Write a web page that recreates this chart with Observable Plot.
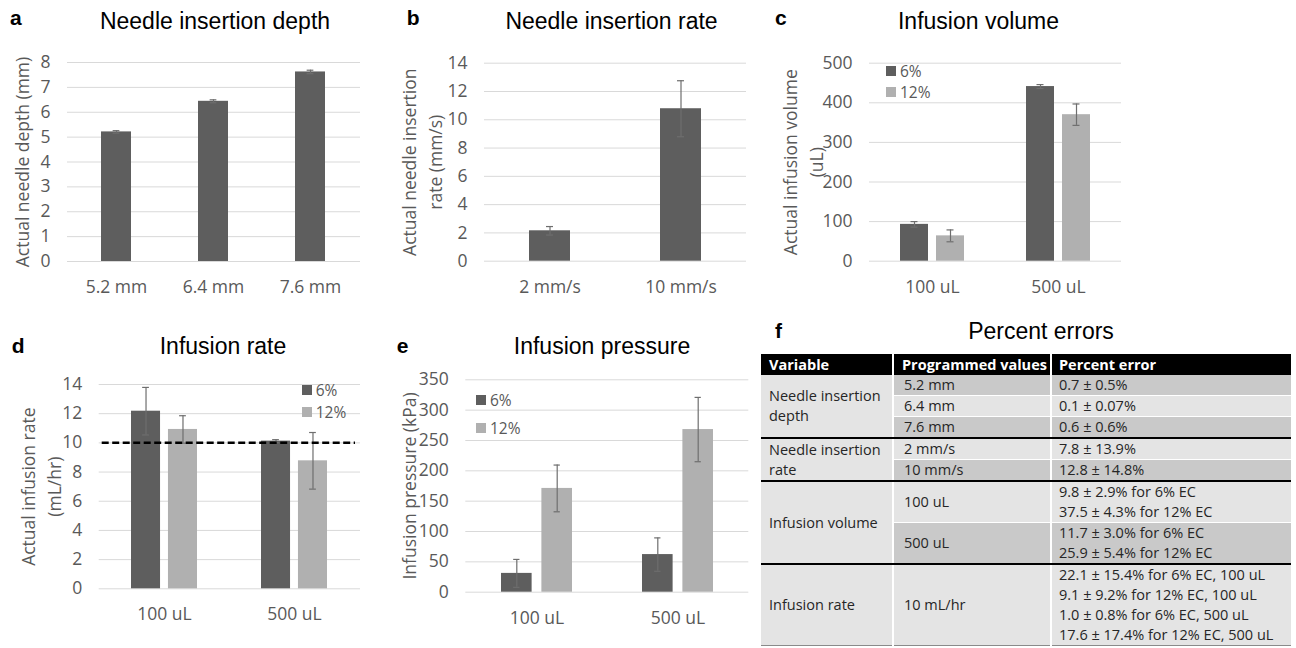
<!DOCTYPE html>
<html><head><meta charset="utf-8">
<script src="https://cdn.jsdelivr.net/npm/d3@7"></script>
<script src="https://cdn.jsdelivr.net/npm/@observablehq/plot@0.6"></script>
<style>
body{margin:0;background:#fff;}
#fig{position:relative;width:1296px;height:648px;overflow:hidden;background:#fff;font-family:"Open Sans",sans-serif;}
.panel{position:absolute;}
.title{position:absolute;font-family:"Liberation Sans",Arial,sans-serif;font-size:23px;line-height:23px;color:#000;white-space:nowrap;transform:translateX(-50%);}
.letter{position:absolute;font-family:"Liberation Sans",Arial,sans-serif;font-weight:bold;font-size:21px;line-height:21px;color:#000;}
.leg{position:absolute;display:flex;align-items:center;height:18px;line-height:18px;font-size:15.5px;color:#595959;font-family:"Open Sans",sans-serif;white-space:nowrap;}
.leg span.sw{display:inline-block;width:10px;height:10px;margin-right:4px;}
#tbl{position:absolute;left:761px;top:354px;width:530px;border-collapse:collapse;table-layout:fixed;font-family:"Open Sans",sans-serif;font-size:14.5px;line-height:20px;color:#262626;}
#tbl th{background:#000;color:#fff;font-weight:bold;text-align:left;height:21px;padding:0 0 0 8px;border-right:2px solid #fff;white-space:nowrap;}
#tbl th:last-child{border-right:none;padding-left:7px;}
#tbl td{padding:0 2px 0 10px;border-right:2px solid #fff;border-bottom:1px solid #fff;vertical-align:middle;white-space:pre-line;}
#tbl td.var{background:#e4e4e4;padding-left:8px;}
#tbl td.pc{border-right:none;padding-left:7px;}
#tbl td.dark{background:#c9c9c9;}
#tbl td.light{background:#e4e4e4;}
#tbl td.end{border-bottom:2px solid #000;}
#tbl tr.final td{border-bottom:1px solid #8a8a8a;}
</style>
</head><body>
<div id="fig"></div>
<script>
// ---------- data ----------
const seriesNames = ["6%", "12%"];
const seriesColors = ["#5e5e5e", "#b0b0b0"];

const depthCats = ["5.2 mm", "6.4 mm", "7.6 mm"];
const depthMean = [5.21, 6.44, 7.62];
const depthSD = [0.05, 0.06, 0.07];
const depthTicks = [0, 1, 2, 3, 4, 5, 6, 7, 8];

const rateCats = ["2 mm/s", "10 mm/s"];
const rateMean = [2.15, 10.78];
const rateSD = [0.3, 1.98];
const rateTicks = [0, 2, 4, 6, 8, 10, 12, 14];

const volCats = ["100 uL", "500 uL"];
const vol6Mean = [93, 441];
const vol6SD = [7, 5];
const vol12Mean = [64, 370];
const vol12SD = [15, 27];
const volTicks = [0, 100, 200, 300, 400, 500];

const infCats = ["100 uL", "500 uL"];
const inf6Mean = [12.17, 10.12];
const inf6SD = [1.63, 0.1];
const inf12Mean = [10.92, 8.77];
const inf12SD = [0.94, 1.94];
const infTarget = [10];
const infTicks = [0, 2, 4, 6, 8, 10, 12, 14];

const presCats = ["100 uL", "500 uL"];
const pres6Mean = [31, 62];
const pres6SD = [23, 27.5];
const pres12Mean = [171, 268];
const pres12SD = [38.5, 53];
const presTicks = [0, 50, 100, 150, 200, 250, 300, 350];

const tableHeader = ["Variable", "Programmed values", "Percent error"];
const tableVariables = ["Needle insertion\ndepth", "Needle insertion\nrate", "Infusion volume", "Infusion rate"];
const tableProgrammed = [
  ["5.2 mm", "6.4 mm", "7.6 mm"],
  ["2 mm/s", "10 mm/s"],
  ["100 uL", "500 uL"],
  ["10 mL/hr"]
];
const tableErrors = [
  ["0.7 ± 0.5%", "0.1 ± 0.07%", "0.6 ± 0.6%"],
  ["7.8 ± 13.9%", "12.8 ± 14.8%"],
  ["9.8 ± 2.9% for 6% EC\n37.5 ± 4.3% for 12% EC", "11.7 ± 3.0% for 6% EC\n25.9 ± 5.4% for 12% EC"],
  ["22.1 ± 15.4% for 6% EC, 100 uL\n9.1 ± 9.2% for 12% EC, 100 uL\n1.0 ± 0.8% for 6% EC, 500 uL\n17.6 ± 17.4% for 12% EC, 500 uL"]
];

// ---------- layout helpers ----------
const fig = document.getElementById("fig");

function addDiv(cls, text, left, top) {
  const d = document.createElement("div");
  d.className = cls;
  d.textContent = text;
  d.style.left = left + "px";
  d.style.top = top + "px";
  fig.appendChild(d);
  return d;
}
function addTitle(text, cx, baseline) { addDiv("title", text, cx, baseline - 0.8465 * 23); }
function addLetter(text, x, baseline) { addDiv("letter", text, x, baseline - 0.8465 * 21); }

function addLegend(x, centers) {
  seriesNames.forEach((name, k) => {
    const d = document.createElement("div");
    d.className = "leg";
    d.style.left = x + "px";
    d.style.top = (centers[k] - 9) + "px";
    const sw = document.createElement("span");
    sw.className = "sw";
    sw.style.background = seriesColors[k];
    d.appendChild(sw);
    d.appendChild(document.createTextNode(name));
    fig.appendChild(d);
  });
}

function barPanel(cfg) {
  const {box, frame, cats, series, ticks, ylabel, labelCenter, pad, barFrac, capW, extra} = cfg;
  const fw = frame.x1 - frame.x0;
  const n = cats.length;
  const step = fw / n;
  const G = step * (1 - pad);
  const ns = series.length;
  const w = ns === 1 ? G : G * barFrac;
  const marks = [Plot.ruleY(ticks, {stroke: "#d9d9d9", strokeWidth: 1})];
  series.forEach((s, k) => {
    const rows = cats.map((c, i) => ({cat: c, mean: s.mean[i], lo: s.mean[i] - s.sd[i], hi: s.mean[i] + s.sd[i]}));
    const left = ns === 1 ? 0 : k * (G - w);
    const right = G - left - w;
    const center = left + w / 2;
    marks.push(Plot.barY(rows, {x: "cat", y: "mean", fill: s.color, insetLeft: left, insetRight: right}));
    marks.push(Plot.ruleX(rows, {x: "cat", y1: "lo", y2: "hi", dx: center - G / 2, stroke: "#6e6e6e", strokeWidth: 1.2}));
    marks.push(Plot.tickY(rows, {x: "cat", y: "hi", insetLeft: center - capW / 2, insetRight: G - center - capW / 2, stroke: "#6e6e6e", strokeWidth: 1.2}));
    marks.push(Plot.tickY(rows, {x: "cat", y: "lo", insetLeft: center - capW / 2, insetRight: G - center - capW / 2, stroke: "#6e6e6e", strokeWidth: 1.2}));
  });
  if (extra) marks.push(extra);
  marks.push(Plot.axisY({ticks, tickSize: 0, tickPadding: 17, label: null, tickFormat: d => String(d)}));
  marks.push(Plot.axisX({tickSize: 0, tickPadding: 19, label: null}));
  marks.push(Plot.text([ylabel], {text: d => d, frameAnchor: "left", textAnchor: "middle", lineAnchor: "middle", rotate: -90, dx: labelCenter - frame.x0, fill: "#595959", fontSize: 17.5, lineHeight: 1.5}));
  const svg = Plot.plot({
    width: box.width,
    height: box.height,
    marginLeft: frame.x0 - box.left,
    marginRight: box.left + box.width - frame.x1,
    marginTop: frame.y0 - box.top,
    marginBottom: box.top + box.height - frame.y1,
    x: {type: "band", domain: cats, paddingInner: pad, paddingOuter: pad / 2, align: 0.5},
    y: {domain: [ticks[0], ticks[ticks.length - 1]]},
    style: {fontFamily: "'Open Sans', sans-serif", fontSize: "17.5px", color: "#595959", background: "transparent", overflow: "visible"},
    marks
  });
  const holder = document.createElement("div");
  holder.className = "panel";
  holder.style.left = box.left + "px";
  holder.style.top = box.top + "px";
  holder.appendChild(svg);
  fig.appendChild(holder);
}

// ---------- panel a ----------
addLetter("a", 10, 25);
addTitle("Needle insertion depth", 215, 29);
barPanel({
  box: {left: 0, top: 40, width: 372, height: 272},
  frame: {x0: 67, x1: 360, y0: 62, y1: 261},
  cats: depthCats,
  series: [{mean: depthMean, sd: depthSD, color: seriesColors[0]}],
  ticks: depthTicks, ylabel: "Actual needle depth (mm)", labelCenter: 20,
  pad: 0.69, capW: 7
});

// ---------- panel b ----------
addLetter("b", 406.7, 25);
addTitle("Needle insertion rate", 611.5, 29);
barPanel({
  box: {left: 380, top: 40, width: 372, height: 272},
  frame: {x0: 484, x1: 746, y0: 62.7, y1: 260.7},
  cats: rateCats,
  series: [{mean: rateMean, sd: rateSD, color: seriesColors[0]}],
  ticks: rateTicks, ylabel: "Actual needle insertion\nrate (mm/s)", labelCenter: 420,
  pad: 0.687, capW: 7
});

// ---------- panel c ----------
addLetter("c", 775, 25);
addTitle("Infusion volume", 978.5, 29);
barPanel({
  box: {left: 760, top: 40, width: 372, height: 272},
  frame: {x0: 869, x1: 1121, y0: 62.7, y1: 260.7},
  cats: volCats,
  series: [{mean: vol6Mean, sd: vol6SD, color: seriesColors[0]}, {mean: vol12Mean, sd: vol12SD, color: seriesColors[1]}],
  ticks: volTicks, ylabel: "Actual infusion volume\n(uL)", labelCenter: 800.8,
  pad: 0.492, barFrac: 0.4375, capW: 7
});
addLegend(886, [70.5, 91.5]);

// ---------- panel d ----------
addLetter("d", 11.7, 352.3);
addTitle("Infusion rate", 223, 354);
barPanel({
  box: {left: 0, top: 365, width: 372, height: 283},
  frame: {x0: 98.7, x1: 360, y0: 384, y1: 588.3},
  cats: infCats,
  series: [{mean: inf6Mean, sd: inf6SD, color: seriesColors[0]}, {mean: inf12Mean, sd: inf12SD, color: seriesColors[1]}],
  ticks: infTicks, ylabel: "Actual infusion rate\n(mL/hr)", labelCenter: 39.2,
  pad: 0.493, barFrac: 0.442, capW: 7,
  extra: Plot.ruleY(infTarget, {stroke: "#000", strokeWidth: 2.5, strokeDasharray: "7,3.5", insetLeft: 3, insetRight: 5})
});
addLegend(301.7, [390, 412]);

// ---------- panel e ----------
addLetter("e", 396.7, 352.3);
addTitle("Infusion pressure", 602, 354);
barPanel({
  box: {left: 380, top: 365, width: 372, height: 283},
  frame: {x0: 465.3, x1: 748.3, y0: 379.3, y1: 591.7},
  cats: presCats,
  series: [{mean: pres6Mean, sd: pres6SD, color: seriesColors[0]}, {mean: pres12Mean, sd: pres12SD, color: seriesColors[1]}],
  ticks: presTicks, ylabel: "Infusion pressure (kPa)", labelCenter: 406.7,
  pad: 0.493, barFrac: 0.437, capW: 7
});
addLegend(476, [399.5, 427.5]);

// ---------- panel f (table) ----------
addLetter("f", 775, 338);
addTitle("Percent errors", 1041, 339);
const tbl = document.createElement("table");
tbl.id = "tbl";
const cg = document.createElement("colgroup");
[132, 158, 240].forEach(wd => { const c = document.createElement("col"); c.style.width = wd + "px"; cg.appendChild(c); });
tbl.appendChild(cg);
const thr = document.createElement("tr");
tableHeader.forEach(h => { const th = document.createElement("th"); th.textContent = h; thr.appendChild(th); });
tbl.appendChild(thr);
let rowIndex = 0;
tableVariables.forEach((v, g) => {
  const progs = tableProgrammed[g];
  progs.forEach((p, r) => {
    const tr = document.createElement("tr");
    const isEnd = r === progs.length - 1;
    const isFinal = g === tableVariables.length - 1 && isEnd;
    if (isFinal) tr.className = "final";
    if (r === 0) {
      const tdv = document.createElement("td");
      tdv.className = "var" + (isFinal ? "" : " end");
      tdv.rowSpan = progs.length;
      tdv.textContent = v;
      tr.appendChild(tdv);
    }
    const shade = rowIndex % 2 === 0 ? "dark" : "light";
    const tdp = document.createElement("td");
    tdp.className = shade + (isEnd && !isFinal ? " end" : "");
    tdp.textContent = p;
    tr.appendChild(tdp);
    const tde = document.createElement("td");
    tde.className = "pc " + shade + (isEnd && !isFinal ? " end" : "");
    tde.textContent = tableErrors[g][r];
    tr.appendChild(tde);
    tbl.appendChild(tr);
    rowIndex++;
  });
});
fig.appendChild(tbl);
</script>
</body></html>
